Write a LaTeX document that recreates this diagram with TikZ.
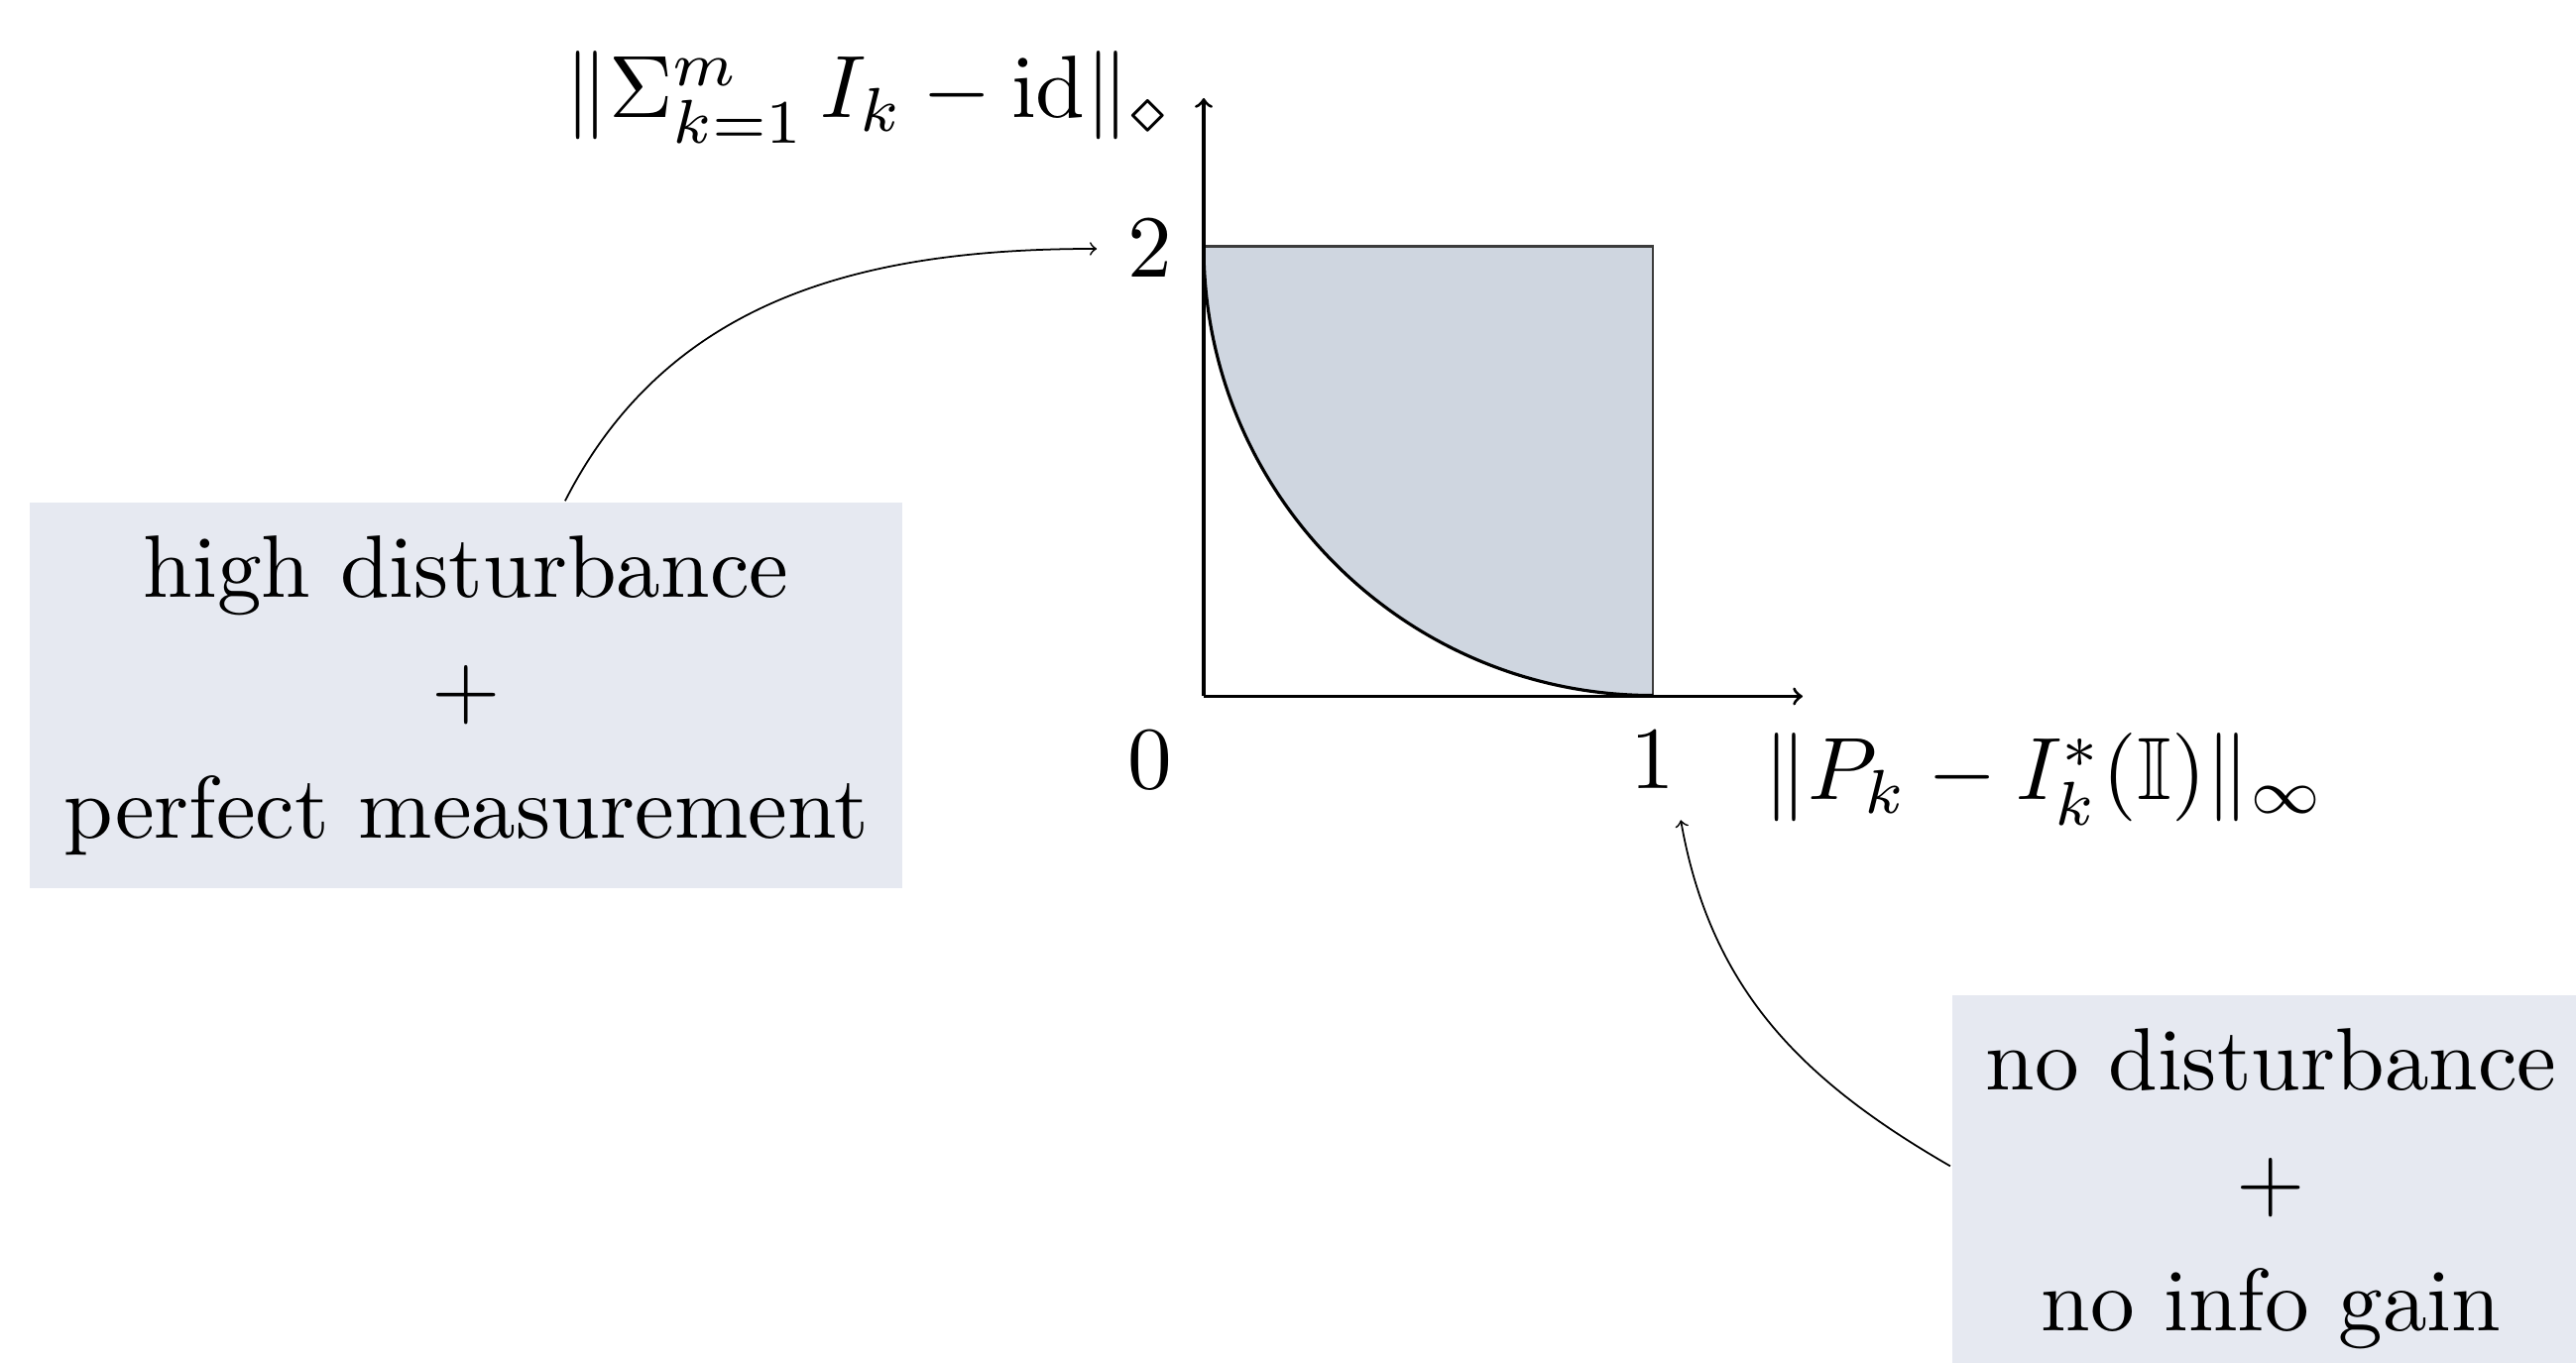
\documentclass[tikz,border=0pt]{standalone}
\usepackage{amssymb}
\usetikzlibrary{positioning,calc}
\definecolor{RegionFill}{RGB}{207,214,224}
\definecolor{NoteFill}{RGB}{230,233,241}
\definecolor{RegionEdge}{RGB}{60,60,60}
\tikzset{
  every node/.append style={scale=2.54},
  axisline/.style={->,line width=0.9pt},
  conn/.style={->,line width=0.5pt},
  notebox/.style={fill=NoteFill,align=center,inner xsep=3.78pt,inner ysep=3.74pt},
  ticklab/.style={inner sep=.3333em}
}

\begin{document}
\fontsize{10pt}{13.6pt}\selectfont
\begin{tikzpicture}
  \clip (0,0) rectangle (25.98,13.75);
  \coordinate (o) at (12.14,6.725);
  \coordinate (c10) at (16.67,6.725);
  \coordinate (c02) at (12.14,11.264);
  \coordinate (c12) at (16.67,11.264);
  \coordinate (xtip) at (18.18,6.725);
  \coordinate (ytip) at (12.14,12.76);
  % region above the curve
  \fill[RegionFill] (c02) arc[start angle=180,end angle=270,radius=4.53] -- (c12) -- cycle;
  \draw[RegionEdge,line width=0.7pt] (c02) -- (c12) -- (c10);
  \draw[line width=0.9pt] (c02) arc[start angle=180,end angle=270,radius=4.53];
  % axes
  \draw[axisline] (o) -- (xtip);
  \draw[axisline] (o) -- (ytip);
  \node[ticklab] (two) at (11.60,11.24) {$2$};
  \node[ticklab] (zero) at (11.60,6.08) {$0$};
  \node[ticklab] (one) at (16.67,6.08) {$1$};
  \node[anchor=base west] (ylab) at (5.38,12.56) {$\|\Sigma_{k=1}^m\,I_k-\mathrm{id}\|_\diamond$};
  \node[anchor=base west] (xlab) at (17.47,5.68) {$\|P_k-I_k^*(\mathbb{I})\|_\infty$};
  % notes
  \node[notebox] (hi) at (4.70,6.735) {high disturbance\\$+$\\perfect measurement};
  \node[notebox] (no) at (22.905,1.76) {no disturbance\\$+$\\no info gain};
  \draw[conn] (hi) to[out=63,in=180] (two);
  \draw[conn] (no.176) to[out=150,in=-80] (one.-65);
\end{tikzpicture}
\end{document}
